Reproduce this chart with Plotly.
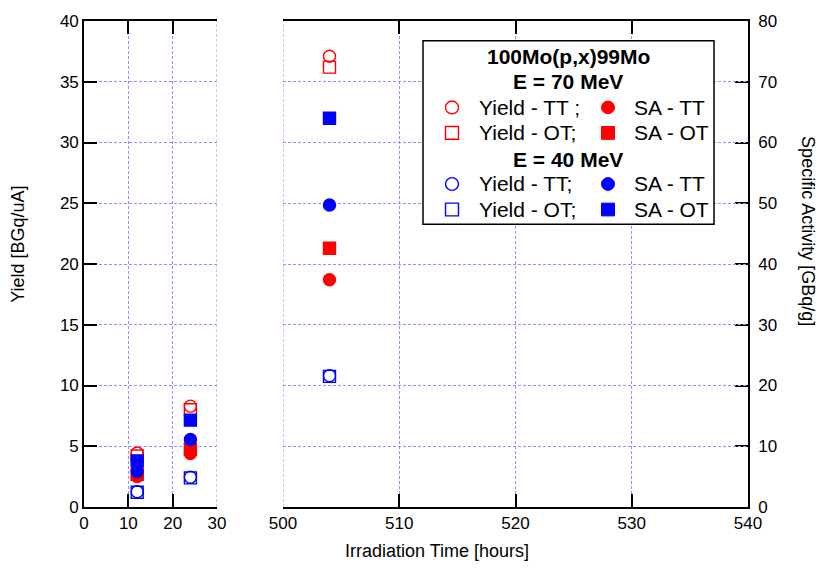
import plotly.graph_objects as go

# Irradiation times [hours]
times = [12, 24, 504]

# E = 70 MeV  (yield in BGq/uA, specific activity in GBq/g)
yield_tt_70 = [4.45, 8.3, 37.1]
yield_ot_70 = [4.2, 8.0, 36.2]
sa_tt_70 = [5.0, 8.8, 37.4]
sa_ot_70 = [5.4, 9.5, 42.6]

# E = 40 MeV
yield_tt_40 = [1.25, 2.45, 10.8]
yield_ot_40 = [1.22, 2.4, 10.75]
sa_tt_40 = [5.85, 11.1, 49.7]
sa_ot_40 = [7.6, 14.3, 64.0]

# axis break: short irradiations on the left panel, long ones on the right
BREAK = 30
LEFT_RANGE = [0, 30]
RIGHT_RANGE = [500, 540]

RED = "#ff0000"
BLUE = "#0000ff"
FONT = "Liberation Sans, Arial, sans-serif"
GRID = "#9090ff"
DASH = "3px,2px"

W, H = 822, 569
ML, MR, MT, MB = 84, 74, 12, 62
PW = W - ML - MR
PH = H - MT - MB

series = [
    (yield_tt_70, "y", "circle-open", RED),
    (yield_ot_70, "y", "square-open", RED),
    (sa_tt_70, "y2", "circle", RED),
    (sa_ot_70, "y2", "square", RED),
    (yield_tt_40, "y", "circle-open", BLUE),
    (yield_ot_40, "y", "square-open", BLUE),
    (sa_tt_40, "y2", "circle", BLUE),
    (sa_ot_40, "y2", "square", BLUE),
]

fig = go.Figure()
for vals, yax, sym, col in series:
    for xax, keep in (("x", lambda t: t <= BREAK), ("x2", lambda t: t > BREAK)):
        xs = [t for t in times if keep(t)]
        ys = [v for t, v in zip(times, vals) if keep(t)]
        fig.add_trace(go.Scatter(
            x=xs, y=ys, xaxis=xax, yaxis=yax, mode="markers",
            marker=dict(symbol=sym, size=12, color=col,
                        line=dict(color=col, width=1.4)),
            showlegend=False, hoverinfo="skip"))

axis_common = dict(
    ticks="inside", ticklen=13, tickwidth=1.6, tickcolor="black",
    showline=True, linecolor="black", linewidth=1.6,
    zeroline=False, tickfont=dict(family=FONT, size=17, color="black"),
)

x1_end = (217 - ML) / PW
x2_start = (283 - ML) / PW

fig.update_layout(
    width=W, height=H,
    margin=dict(l=ML, r=MR, t=MT, b=MB),
    paper_bgcolor="white", plot_bgcolor="white",
    font=dict(family=FONT, color="black"),
    xaxis=dict(domain=[0, x1_end], range=LEFT_RANGE, dtick=10, anchor="y",
               mirror="ticks", showgrid=True, gridcolor=GRID,
               griddash=DASH, gridwidth=1, **axis_common),
    xaxis2=dict(domain=[x2_start, 1], range=RIGHT_RANGE, dtick=10, anchor="y",
                mirror="ticks", showgrid=True, gridcolor=GRID,
                griddash=DASH, gridwidth=1, **axis_common),
    yaxis=dict(range=[0, 40], dtick=5, anchor="x", side="left",
               showgrid=True, gridcolor=GRID, griddash=DASH,
               gridwidth=1, **axis_common),
    yaxis2=dict(range=[0, 80], dtick=10, anchor="x2", side="right",
                overlaying="y", showgrid=False, ticklabelstandoff=5,
                **axis_common),
)


def px(x):
    return (x - ML) / PW


def py(y):
    return (H - MB - y) / PH


annotations = [
    dict(text="Irradiation Time [hours]", x=px(437), y=py(552),
         font=dict(size=18)),
    dict(text="Yield [BGq/uA]", x=px(18), y=py(240), textangle=-90,
         font=dict(size=18)),
    dict(text="Specific Activity [GBq/g]", x=px(808), y=py(226),
         textangle=90, font=dict(size=18)),
]

# grid lines along the inner edges of the broken axis
shapes = [
    dict(type="line", xref="x", yref="paper", x0=LEFT_RANGE[1],
         x1=LEFT_RANGE[1], y0=0, y1=1, layer="below",
         line=dict(color=GRID, width=1, dash=DASH)),
    dict(type="line", xref="x2", yref="paper", x0=RIGHT_RANGE[0],
         x1=RIGHT_RANGE[0], y0=0, y1=1, layer="below",
         line=dict(color=GRID, width=1, dash=DASH)),
]

# legend box
shapes.append(dict(type="rect", xref="paper", yref="paper",
                   x0=px(423), x1=px(714), y0=py(219), y1=py(32),
                   line=dict(color="black", width=1.5), fillcolor="white",
                   layer="above"))

legend_titles = [("100Mo(p,x)99Mo", 48), ("E = 70 MeV", 74),
                 ("E = 40 MeV", 153)]
for txt, yy in legend_titles:
    annotations.append(dict(text="<b>%s</b>" % txt, x=px(568), y=py(yy),
                            font=dict(size=21)))

legend_rows = [
    (100, RED, "circle", "Yield - TT ;", "SA - TT"),
    (126, RED, "square", "Yield - OT;", "SA - OT"),
    (178, BLUE, "circle", "Yield - TT;", "SA - TT"),
    (204, BLUE, "square", "Yield - OT;", "SA - OT"),
]
r = 6.5
for yy, col, kind, t1, t2 in legend_rows:
    sx1, sx2 = 452, 608
    shp = "circle" if kind == "circle" else "rect"
    shapes.append(dict(type=shp, xref="paper", yref="paper",
                       x0=px(sx1 - r), x1=px(sx1 + r),
                       y0=py(yy + r), y1=py(yy - r),
                       line=dict(color=col, width=1.4), fillcolor="rgba(0,0,0,0)",
                       layer="above"))
    shapes.append(dict(type=shp, xref="paper", yref="paper",
                       x0=px(sx2 - r), x1=px(sx2 + r),
                       y0=py(yy + r), y1=py(yy - r),
                       line=dict(color=col, width=1), fillcolor=col,
                       layer="above"))
    annotations.append(dict(text=t1, x=px(477), y=py(yy), xanchor="left",
                            font=dict(size=21)))
    annotations.append(dict(text=t2, x=px(632), y=py(yy), xanchor="left",
                            font=dict(size=21)))

for a in annotations:
    a.setdefault("xref", "paper")
    a.setdefault("yref", "paper")
    a.setdefault("showarrow", False)
    a.setdefault("xanchor", "center")
    a.setdefault("yanchor", "middle")
    a["font"] = dict(family=FONT, color="black", **a["font"])

fig.update_layout(annotations=annotations, shapes=shapes)
fig.write_html("out.html")
